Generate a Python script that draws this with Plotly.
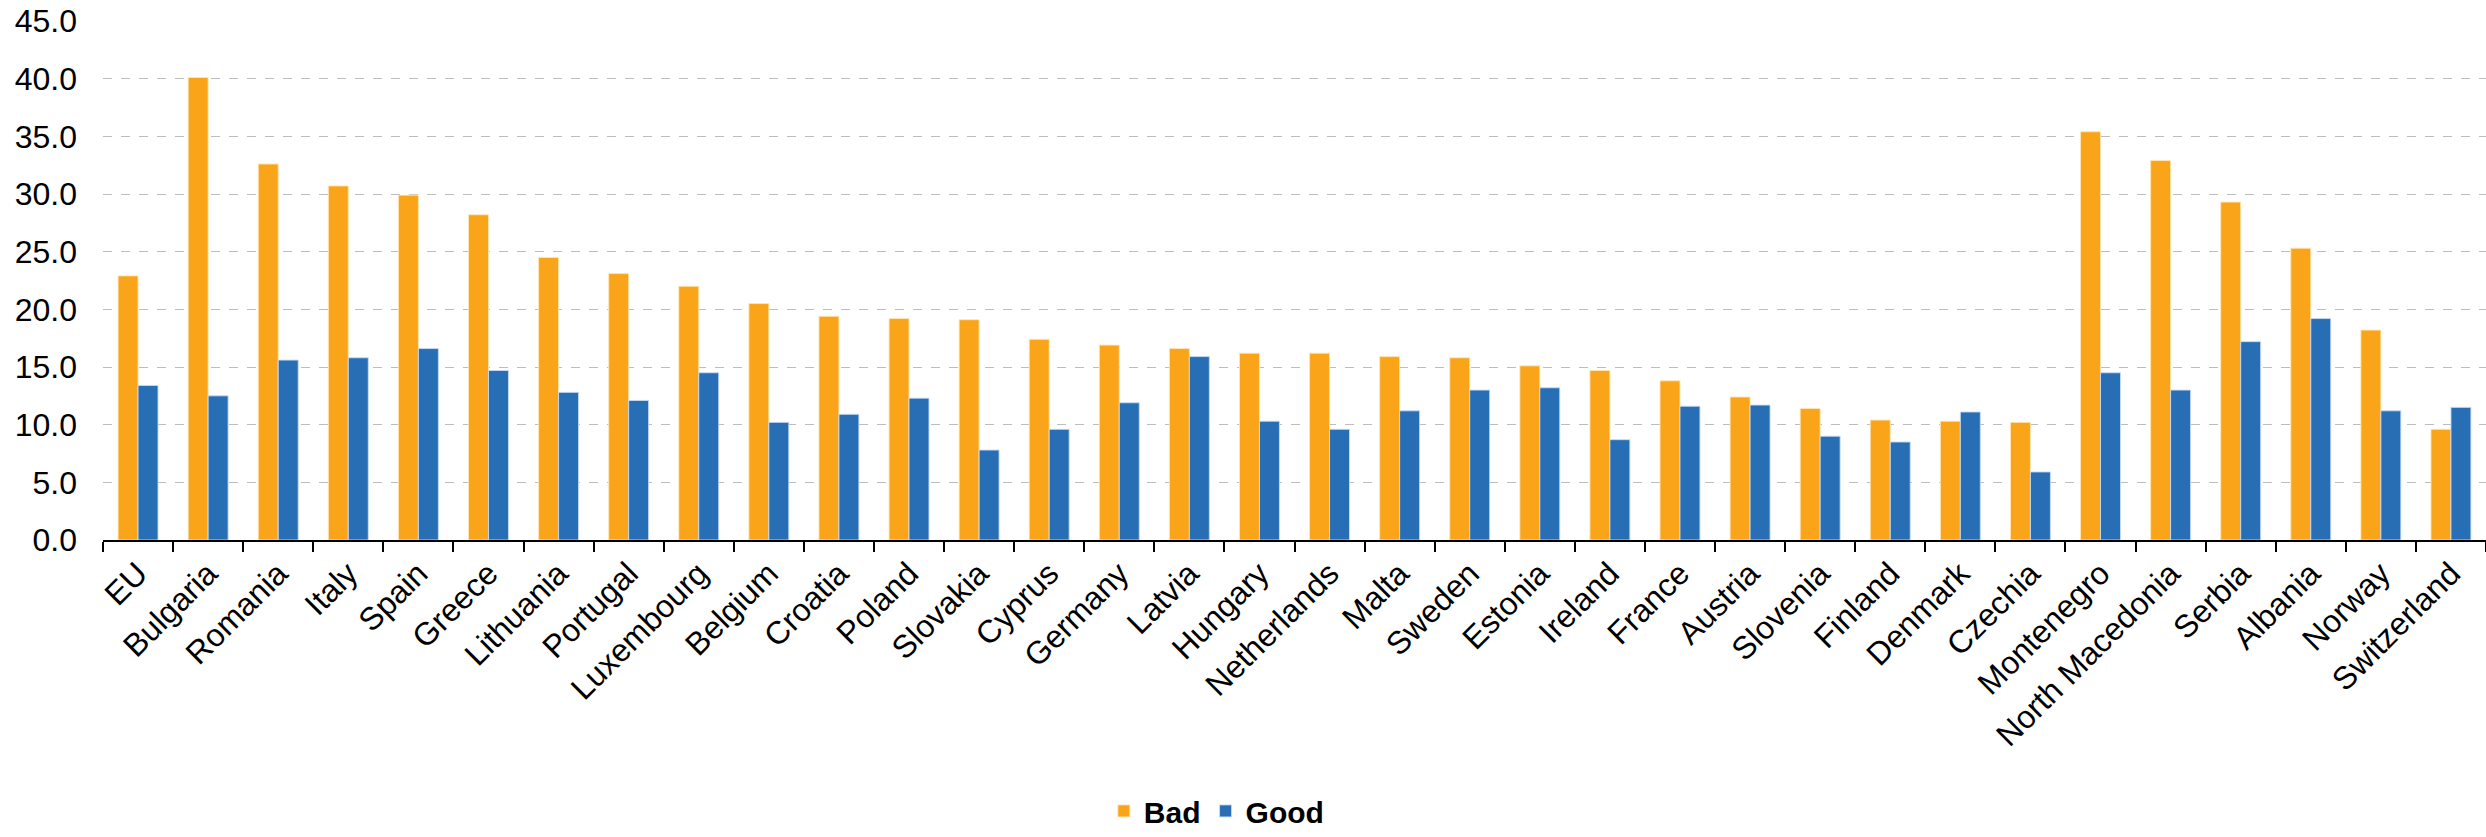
import plotly.graph_objects as go

countries = [
    "EU", "Bulgaria", "Romania", "Italy", "Spain", "Greece", "Lithuania",
    "Portugal", "Luxembourg", "Belgium", "Croatia", "Poland", "Slovakia",
    "Cyprus", "Germany", "Latvia", "Hungary", "Netherlands", "Malta",
    "Sweden", "Estonia", "Ireland", "France", "Austria", "Slovenia",
    "Finland", "Denmark", "Czechia", "Montenegro", "North Macedonia",
    "Serbia", "Albania", "Norway", "Switzerland",
]

bad = [
    22.9, 40.1, 32.6, 30.7, 29.9, 28.2, 24.5,
    23.1, 22.0, 20.5, 19.4, 19.2, 19.1,
    17.4, 16.9, 16.6, 16.2, 16.2, 15.9,
    15.8, 15.1, 14.7, 13.8, 12.4, 11.4,
    10.4, 10.3, 10.2, 35.4, 32.9,
    29.3, 25.3, 18.2, 9.6,
]

good = [
    13.4, 12.5, 15.6, 15.8, 16.6, 14.7, 12.8,
    12.1, 14.5, 10.2, 10.9, 12.3, 7.8,
    9.6, 11.9, 15.9, 10.3, 9.6, 11.2,
    13.0, 13.2, 8.7, 11.6, 11.7, 9.0,
    8.5, 11.1, 5.9, 14.5, 13.0,
    17.2, 19.2, 11.2, 11.5,
]

y_ticks = [0, 5, 10, 15, 20, 25, 30, 35, 40, 45]

ORANGE = "#FAA519"
BLUE = "#286EB4"
FONT = "Liberation Sans, Arial, sans-serif"

fig = go.Figure()
fig.add_trace(go.Bar(
    x=countries, y=bad, name="Bad",
    marker=dict(color=ORANGE, line=dict(color="rgba(255,230,180,0.9)", width=1)),
))
fig.add_trace(go.Bar(
    x=countries, y=good, name="Good",
    marker=dict(color=BLUE, line=dict(color="rgba(200,220,245,0.9)", width=1)),
))

fig.update_layout(
    width=2486, height=837,
    margin=dict(l=103, r=0, t=21, b=289),
    paper_bgcolor="white", plot_bgcolor="white",
    barmode="group", bargap=0.43, bargroupgap=0,
    font=dict(family=FONT, size=32, color="#000000"),
    showlegend=True,
    legend=dict(
        orientation="h", x=0.42, xanchor="left", y=-0.522, yanchor="middle",
        font=dict(family=FONT, size=30, color="#000000", weight="bold"),
        traceorder="normal",
    ),
)

fig.update_xaxes(
    type="category",
    tickangle=-45,
    showline=True, linecolor="#000000", linewidth=2,
    ticks="outside", ticklen=10, tickwidth=2, tickcolor="#000000",
    tickson="boundaries",
    showgrid=False,
    tickfont=dict(family=FONT, size=32, color="#000000"),
)

fig.update_yaxes(
    range=[0, 45],
    tickvals=y_ticks, tickformat=".1f",
    showgrid=True, gridcolor="#bdbdbd", gridwidth=1, griddash="dash",
    zeroline=False, showline=False, ticks="",
    ticklabelstandoff=25,
    tickfont=dict(family=FONT, size=32, color="#000000"),
)

fig.write_html("out.html")
